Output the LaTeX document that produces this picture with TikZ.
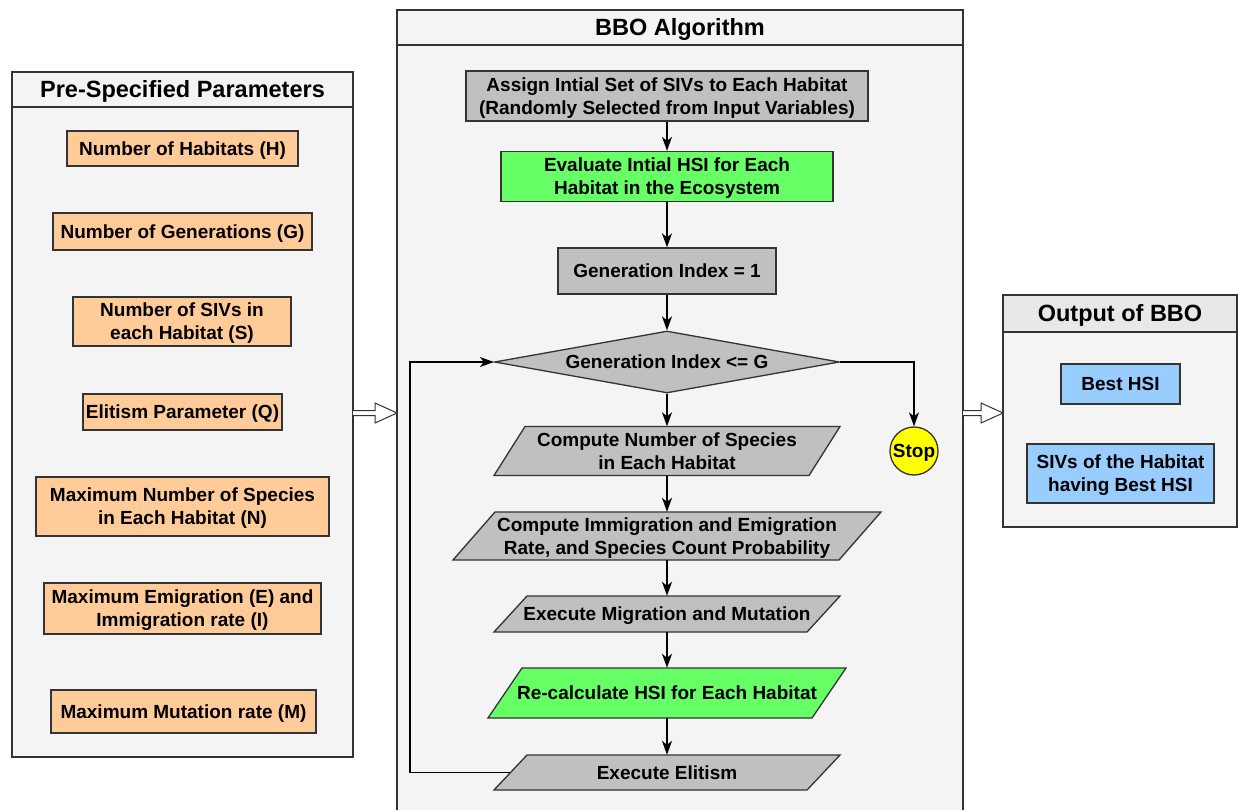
\documentclass[tikz,border=0pt]{standalone}
\usepackage{fontspec}
\setmainfont{Liberation Sans}
\usetikzlibrary{arrows.meta,shapes.geometric,calc}
\definecolor{panelbg}{HTML}{F4F4F4}
\definecolor{hdrbg}{HTML}{E8E8E8}
\definecolor{orangef}{HTML}{FFCC99}
\definecolor{greyf}{HTML}{C0C0C0}
\definecolor{greenf}{HTML}{66FF66}
\definecolor{bluef}{HTML}{99CCFF}
\definecolor{stopf}{HTML}{FFFF00}
\definecolor{edgec}{HTML}{333333}
\newcommand{\tstrut}{\rule[-4.5pt]{0pt}{22.6pt}}
\newcommand{\hstrut}{\rule[-5.5pt]{0pt}{27.8pt}}
\newcommand{\twol}[2]{\tstrut#1\\#2\tstrut}
\newcommand{\pnode}[8]{%
  \draw[box, fill=#7] (#2-#4-#5,#3+#6) -- (#2+#4-#5,#3+#6) -- (#2+#4+#5,#3-#6) -- (#2-#4+#5,#3-#6) -- cycle;
  \node[minimum height=2*#6, minimum width=2*#4] (#1) at (#2,#3) {#8};}
\newcommand{\dblarrow}[3]{%
  \draw[line width=1pt, draw=edgec, fill=white] (#1,#3-2.5) -- (#2-22,#3-2.5) -- (#2-22,#3-10) -- (#2,#3) -- (#2-22,#3+10) -- (#2-22,#3+2.5) -- (#1,#3+2.5);}
\begin{document}
\begin{tikzpicture}[x=1pt,y=-1pt,
  every node/.style={font=\fontsize{19}{23}\selectfont\bfseries, text=black, inner sep=0pt, align=center,
    execute at begin node=\tstrut, execute at end node=\tstrut},
  panel/.style={draw=edgec, line width=1.4pt, fill=panelbg, rectangle},
  hdr/.style={draw=edgec, line width=1.4pt, fill=panelbg, rectangle, font=\fontsize{23.5}{26}\selectfont\bfseries,
    execute at begin node=\hstrut, execute at end node=\hstrut},
  box/.style={draw=edgec, line width=1.3pt},
  rbox/.style={box, rectangle},
  arr/.style={draw=black, line width=1.3pt, -{Stealth[length=14pt,width=10pt,inset=4pt]}}
]
\clip (0,0) rectangle (1238,810);
\fill[white] (0,0) rectangle (1238,810);

% panels
\node[panel, minimum width=341, minimum height=685] (lp) at (182.5,414.5) {};
\node[hdr, minimum width=341, minimum height=35, anchor=north] (lph) at (lp.north) {Pre-Specified Parameters};
\node[panel, minimum width=566, minimum height=820] (mp) at (680,420) {};
\node[hdr, minimum width=566, minimum height=35, anchor=north] (mph) at (mp.north) {BBO Algorithm};
\node[panel, minimum width=234, minimum height=232] (rp) at (1120,411) {};
\node[hdr, fill=hdrbg, minimum width=234, minimum height=37, anchor=north] (rph) at (rp.north) {Output of BBO};

% left parameter boxes
\node[rbox, fill=orangef, minimum width=231, minimum height=35] (h) at (182.5,148.5) {Number of Habitats (H)};
\node[rbox, fill=orangef, minimum width=259, minimum height=37] (g) at (182.5,231.5) {Number of Generations (G)};
\node[rbox, fill=orangef, minimum width=218, minimum height=49] (s) at (182,321.5) {\twol{Number of SIVs in}{each Habitat (S)}};
\node[rbox, fill=orangef, minimum width=199, minimum height=36] (q) at (182.5,412) {Elitism Parameter (Q)};
\node[rbox, fill=orangef, minimum width=293, minimum height=59] (n) at (182.5,506.5) {\twol{Maximum Number of Species}{in Each Habitat (N)}};
\node[rbox, fill=orangef, minimum width=277, minimum height=51] (e) at (182.5,608.5) {\twol{Maximum Emigration (E) and}{Immigration rate (I)}};
\node[rbox, fill=orangef, minimum width=265, minimum height=43] (m) at (183.5,711.5) {Maximum Mutation rate (M)};

% right output boxes
\node[rbox, fill=bluef, minimum width=119, minimum height=40] (best) at (1120.5,384) {Best HSI};
\node[rbox, fill=bluef, minimum width=187, minimum height=59] (sivs) at (1120.5,473.5) {\twol{SIVs of the Habitat}{having Best HSI}};

% middle flow
\node[rbox, fill=greyf, minimum width=402, minimum height=50] (assign) at (667,96) {\twol{Assign Intial Set of SIVs to Each Habitat}{(Randomly Selected from Input Variables)}};
\node[rbox, fill=greenf, minimum width=332, minimum height=50] (eval) at (667,176.5) {\twol{Evaluate Intial HSI for Each}{Habitat in the Ecosystem}};
\node[rbox, fill=greyf, minimum width=218, minimum height=46] (gen) at (667,271) {Generation Index = 1};
\node[box, diamond, aspect=5.5, fill=greyf, minimum width=345, minimum height=62] (dec) at (667,362) {Generation Index <= G};
\pnode{p1}{667}{451}{157.5}{15.5}{24.5}{greyf}{\twol{Compute Number of Species}{in Each Habitat}}
\pnode{p2}{667}{536}{193}{21}{24}{greyf}{\twol{Compute Immigration and Emigration}{Rate, and Species Count Probability}}
\pnode{p3}{667}{614}{156.5}{16.5}{18}{greyf}{Execute Migration and Mutation}
\pnode{p4}{667}{693}{162}{17}{25}{greenf}{Re-calculate HSI for Each Habitat}
\pnode{p5}{667}{772.5}{156.5}{16.5}{17.5}{greyf}{Execute Elitism}
\node[box, circle, fill=stopf, minimum size=48] (stop) at (914,451) {Stop};

\coordinate (loopc) at (410,772.5);
\draw[arr] (assign.south) -- (eval.north);
\draw[arr] (eval.south) -- (gen.north);
\draw[arr] (gen.south) -- (dec.north);
\draw[arr] (dec.south) -- (p1.north);
\draw[arr] (p1.south) -- (p2.north);
\draw[arr] (p2.south) -- (p3.north);
\draw[arr] (p3.south) -- (p4.north);
\draw[arr] (p4.south) -- (p5.north);
\draw[arr] (p5.west) -- (loopc) |- (dec.west);
\draw[arr] (dec.east) -| (stop.north);

% panel arrows
\dblarrow{353}{397}{413}
\dblarrow{963}{1003}{413}
\end{tikzpicture}
\end{document}
